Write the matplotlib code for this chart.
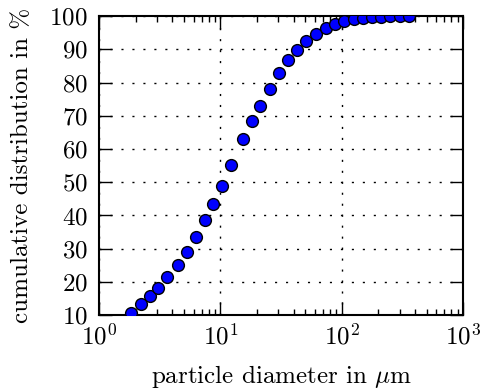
import matplotlib
matplotlib.use("Agg")
import matplotlib.pyplot as plt
from matplotlib.ticker import LogLocator, FixedLocator

diameter_um = [1.82, 2.22, 2.63, 3.06, 3.66, 4.45, 5.28, 6.27, 7.48, 8.76,
               10.27, 12.25, 15.2, 18.2, 21.2, 25.4, 30.3, 36.1, 43.1, 50.9,
               61.5, 73.9, 87.7, 104.7, 125, 149, 176, 210, 251, 299, 357]
cumulative_pct = [10.7, 13.4, 15.8, 18.2, 21.4, 25.2, 28.9, 33.4, 38.5, 43.4,
                  48.9, 55.3, 63.0, 68.5, 73.0, 78.1, 82.8, 86.8, 89.8, 92.4,
                  94.7, 96.4, 97.6, 98.4, 99.0, 99.5, 99.7, 99.8, 99.9, 99.9, 100.0]
y_ticks = [10, 20, 30, 40, 50, 60, 70, 80, 90, 100]

plt.rcParams['font.family'] = 'serif'
plt.rcParams['font.serif'] = ['cmr10', 'DejaVu Serif']
plt.rcParams['mathtext.fontset'] = 'cm'
plt.rcParams['axes.formatter.use_mathtext'] = True
plt.rcParams['axes.unicode_minus'] = False

fig = plt.figure(figsize=(4.81, 3.92), dpi=100)
ax = fig.add_axes([0.206, 0.196, 0.757, 0.763])

ax.plot(diameter_um, cumulative_pct, linestyle='none', marker='o',
        markersize=8.5, markerfacecolor='#0000ff', markeredgecolor='black',
        markeredgewidth=1.0, zorder=3)

ax.set_xscale('log')
ax.set_xlim(1, 1000)
ax.set_ylim(10, 100)
ax.yaxis.set_major_locator(FixedLocator(y_ticks))
ax.xaxis.set_major_locator(LogLocator(base=10))
ax.xaxis.set_minor_locator(LogLocator(base=10, subs=range(2, 10)))

ax.grid(True, which='major', color='black', linestyle=(0, (1.5, 6.4)), linewidth=1.0)
ax.set_axisbelow(True)

for s in ax.spines.values():
    s.set_linewidth(1.5)

ax.tick_params(which='both', direction='in', top=True, right=True, labelsize=18, width=1.0)
ax.tick_params(which='major', length=9.5)
ax.tick_params(axis='y', which='major', pad=8)
ax.tick_params(axis='x', which='major', pad=6)
ax.tick_params(which='minor', length=4)

ax.set_xlabel(r'particle diameter in $\mu$m', fontsize=18, labelpad=10)
ax.set_ylabel(r'cumulative distribution in %', fontsize=18, labelpad=12)

fig.savefig('out.png', dpi=100)
